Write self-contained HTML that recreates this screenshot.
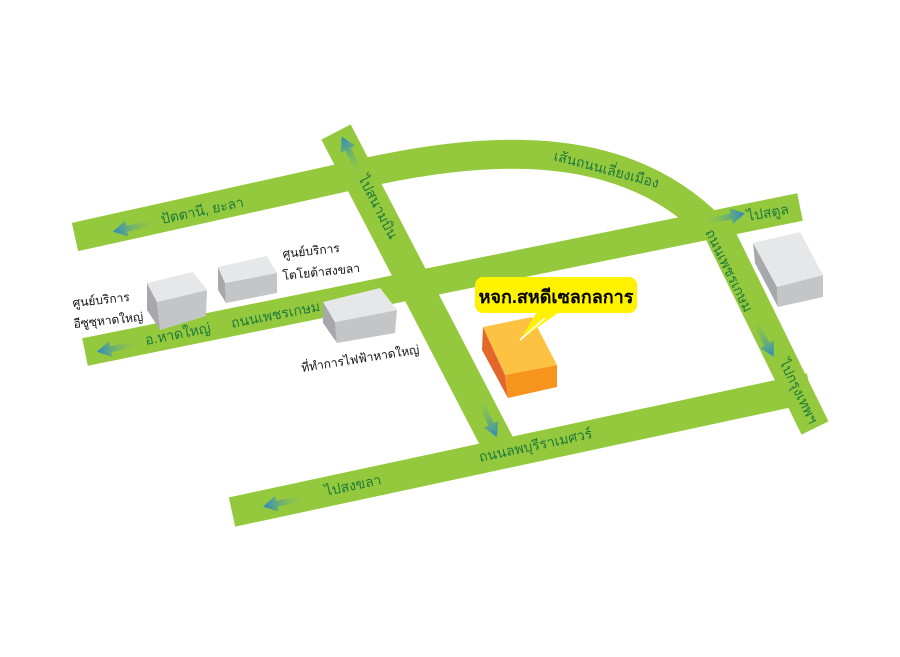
<!DOCTYPE html>
<html><head><meta charset="utf-8"><style>
html,body{margin:0;padding:0;background:#fff;}
svg{display:block;}
text{font-family:"Liberation Sans","Noto Sans CJK SC","WenQuanYi Zen Hei",sans-serif;}
.g{fill:#1d7a3c;font-size:14px;}
.k{fill:#111;font-size:12px;}
</style></head><body>
<svg width="900" height="657" viewBox="0 0 900 657" xmlns="http://www.w3.org/2000/svg">
<defs>
<linearGradient id="ar" x1="0" y1="0" x2="1" y2="0">
<stop offset="0" stop-color="#95c93d" stop-opacity="0"/><stop offset="1" stop-color="#2a86c8"/>
</linearGradient>
<g id="arrow"><polygon points="0,-3 32,-3 32,-8 46,0 32,8 32,3 0,3" fill="url(#ar)"/></g>
</defs>
<g fill="none" stroke="#95c93d" stroke-linecap="butt">
<path d="M75 237 L350 176 C480 146 620 134 712 228" stroke-width="29"/>
<path d="M336 132 L501 450" stroke-width="33"/>
<path d="M85 352 L800 207" stroke-width="28"/>
<path d="M714 222 L815 428" stroke-width="30"/>
<path d="M232 512 L810 388" stroke-width="30"/>
</g>
<use href="#arrow" transform="translate(158,222) rotate(168) "/>
<use href="#arrow" transform="translate(362,178) rotate(-116)"/>
<use href="#arrow" transform="translate(142,343) rotate(169)"/>
<use href="#arrow" transform="translate(700,223) rotate(-12)"/>
<use href="#arrow" transform="translate(752,316) rotate(62)"/>
<use href="#arrow" transform="translate(478,395) rotate(66)"/>
<use href="#arrow" transform="translate(308,497) rotate(168)"/>
<g>
<polygon points="147,283 157,302 160,330 147,310" fill="#a7a8ab"/>
<polygon points="157,302 207,290 206,316 160,330" fill="#c4c5c7"/>
<polygon points="147,283 193,272 207,290 157,302" fill="#e6e7e8"/>
<polygon points="218,267 225,283 226,303 218,290" fill="#a7a8ab"/>
<polygon points="225,283 277,273 277,293 226,303" fill="#c4c5c7"/>
<polygon points="218,267 267,256 277,273 225,283" fill="#e6e7e8"/>
<polygon points="323,302 335,322 337,343 323,323" fill="#a7a8ab"/>
<polygon points="335,322 397,310 395,333 337,343" fill="#c4c5c7"/>
<polygon points="323,302 380,288 397,310 335,322" fill="#e6e7e8"/>
<polygon points="753,243 777,287 778,307 755,263" fill="#a7a8ab"/>
<polygon points="777,287 823,275 823,297 778,307" fill="#c4c5c7"/>
<polygon points="753,243 800,232 823,275 777,287" fill="#e6e7e8"/>
</g>
<polygon points="483,327 505,375 508,398 482,350" fill="#e3662a"/>
<polygon points="505,375 557,365 557,387 508,398" fill="#f7941d"/>
<polygon points="483,327 532,317 557,365 505,375" fill="#fdc241"/>
<polygon points="538,310 562,310 520,340" fill="#fff200"/>
<rect x="475" y="277" width="162" height="36" rx="8" fill="#fff200"/>
<line x1="520" y1="340" x2="545" y2="318" stroke="#fff" stroke-width="1.5"/>
<text x="556" y="303" text-anchor="middle" style="font-size:18px;font-weight:bold;fill:#000">หจก.สหดีเซลกลการ</text>
<text class="g" transform="translate(162,224) rotate(-12)">ปัตตานี, ยะลา</text>
<text class="g" transform="translate(358,178) rotate(63)">ไปสนามบิน</text>
<text class="g" transform="translate(553,160) rotate(15)">เส้นถนนเลี่ยงเมือง</text>
<text class="g" transform="translate(748,221) rotate(-10)">ไปสตูล</text>
<text class="g" transform="translate(705,232) rotate(64)">ถนนเพชรเกษม</text>
<text class="g" transform="translate(779,362) rotate(64)">ไปกรุงเทพฯ</text>
<text class="g" transform="translate(480,462) rotate(-12)">ถนนลพบุรีราเมศวร์</text>
<text class="g" transform="translate(326,496) rotate(-12)">ไปสงขลา</text>
<text class="g" transform="translate(146,345) rotate(-11)">อ.หาดใหญ่</text>
<text class="g" transform="translate(232,328) rotate(-11)">ถนนเพชรเกษม</text>
<text class="k" transform="translate(73,307) rotate(-6)">ศูนย์บริการ</text>
<text class="k" transform="translate(74,328) rotate(-6)">อีซูซุหาดใหญ่</text>
<text class="k" transform="translate(283,258) rotate(-6)">ศูนย์บริการ</text>
<text class="k" transform="translate(283,280) rotate(-6)">โตโยต้าสงขลา</text>
<text class="k" transform="translate(302,372) rotate(-9)">ที่ทำการไฟฟ้าหาดใหญ่</text>
</svg>
</body></html>
